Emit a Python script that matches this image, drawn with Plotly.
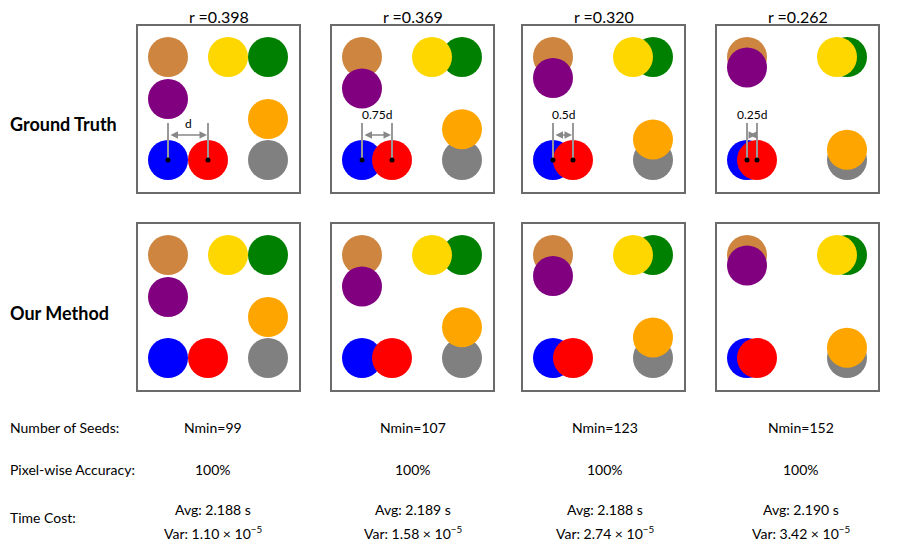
import plotly.graph_objects as go

W, H = 899, 545
OFF = 8  # page body margin of the html wrapper

# chart data
R_VALUES = ["0.398", "0.369", "0.320", "0.262"]
SPACING = [1.0, 0.75, 0.5, 0.25]
SPACING_LABELS = ["d", "0.75d", "0.5d", "0.25d"]
ROW_NAMES = ["Ground Truth", "Our Method"]

# circles: anchors stay put, movers slide toward their anchor by SPACING
ANCHOR_COLORS = ["#CD853F", "#008000", "#808080", "#0000FF"]
ANCHOR_X = [30, 130, 130, 30]
ANCHOR_Y = [31, 31, 134, 134]
MOVER_COLORS = ["#800080", "#FFD700", "#FFA500", "#FF0000"]
MOVER_DX = [0, -40, 0, 40]
MOVER_DY = [42, 0, -41, 0]

N_SEEDS = ["Nmin=99", "Nmin=107", "Nmin=123", "Nmin=152"]
ACCURACY = ["100%", "100%", "100%", "100%"]
AVG_TIME = ["2.188", "2.189", "2.188", "2.190"]
VAR_TIME = ["1.10", "1.58", "2.74", "3.42"]

PANEL_LEFT = [138, 332, 523, 717]
ROW_TOP = [26, 224]
PW, PH = 161, 166
COL_CENTER = [213, 413, 605, 801]

FONT = "Lato"
LINE_GRAY = "#999999"


def px(x):
    return (x - OFF) / W


def py(y):
    return 1 - (y - OFF) / H


def paper_text(x, y, text, size, anchor="center"):
    return dict(x=px(x), y=py(y), xref="paper", yref="paper", xanchor=anchor,
                yanchor="middle", text=text, showarrow=False,
                font=dict(family=FONT, size=size, color="black"))


fig = go.Figure()
layout = {}
annotations = []

n = 0
for r, top in enumerate(ROW_TOP):
    for c, left in enumerate(PANEL_LEFT):
        n += 1
        xa = "x" if n == 1 else f"x{n}"
        ya = "y" if n == 1 else f"y{n}"
        layout["xaxis" if n == 1 else f"xaxis{n}"] = dict(
            domain=[px(left), px(left + PW)], range=[0, PW], anchor=ya,
            showgrid=False, zeroline=False, showticklabels=False, ticks="",
            showline=True, mirror=True, linecolor="#6b6b6b", linewidth=1.5,
            fixedrange=True)
        layout["yaxis" if n == 1 else f"yaxis{n}"] = dict(
            domain=[py(top + PH), py(top)], range=[PH, 0], anchor=xa,
            showgrid=False, zeroline=False, showticklabels=False, ticks="",
            showline=True, mirror=True, linecolor="#6b6b6b", linewidth=1.5,
            fixedrange=True)

        f = SPACING[c]
        mx = [ax + dx * f for ax, dx in zip(ANCHOR_X, MOVER_DX)]
        my = [ay + dy * f for ay, dy in zip(ANCHOR_Y, MOVER_DY)]
        fig.add_trace(go.Scatter(
            x=ANCHOR_X + mx, y=ANCHOR_Y + my, mode="markers",
            marker=dict(size=40, color=ANCHOR_COLORS + MOVER_COLORS, line=dict(width=0)),
            xaxis=xa, yaxis=ya, showlegend=False, hoverinfo="skip"))

        if r == 0:
            bx, rx, cy = ANCHOR_X[3], mx[3], ANCHOR_Y[3]
            for lx in (bx, rx):
                fig.add_trace(go.Scatter(
                    x=[lx, lx], y=[97, cy], mode="lines",
                    line=dict(color=LINE_GRAY, width=2),
                    xaxis=xa, yaxis=ya, showlegend=False, hoverinfo="skip"))
            fig.add_trace(go.Scatter(
                x=[bx, rx], y=[cy, cy], mode="markers",
                marker=dict(size=5, color="black"),
                xaxis=xa, yaxis=ya, showlegend=False, hoverinfo="skip"))
            annotations.append(dict(
                x=rx, y=109, ax=bx, ay=109, xref=xa, yref=ya, axref=xa, ayref=ya,
                text="", showarrow=True, arrowside="end+start", arrowhead=2,
                arrowsize=1, arrowwidth=1.5, arrowcolor="#888888", standoff=1,
                startstandoff=1))
            annotations.append(dict(
                x=(bx + rx) / 2, y=97 if f == 1 else 88, xref=xa, yref=ya,
                xanchor="center", yanchor="middle",
                text=SPACING_LABELS[c], showarrow=False,
                font=dict(family=FONT, size=12, color="black")))
            annotations.append(paper_text(left + PW / 2, 16, "r =" + R_VALUES[c], 16))

for name, y in zip(ROW_NAMES, [124, 313]):
    annotations.append(paper_text(8, y, f"<b>{name}</b>", 18, "left"))

for label, y in zip(["Number of Seeds:", "Pixel-wise Accuracy:", "Time Cost:"], [427, 469, 517]):
    annotations.append(paper_text(8, y, label, 14, "left"))

for c, cx in enumerate(COL_CENTER):
    rows = [(N_SEEDS[c], 427), (ACCURACY[c], 469),
            (f"Avg: {AVG_TIME[c]} s", 509),
            (f"Var: {VAR_TIME[c]} × 10<sup>−5</sup>", 532)]
    for txt, y in rows:
        annotations.append(paper_text(cx, y, txt, 14))

fig.update_layout(
    width=W, height=H, margin=dict(l=0, r=0, t=0, b=0),
    paper_bgcolor="white", plot_bgcolor="white",
    annotations=annotations, **layout)

fig.write_html("out.html")
